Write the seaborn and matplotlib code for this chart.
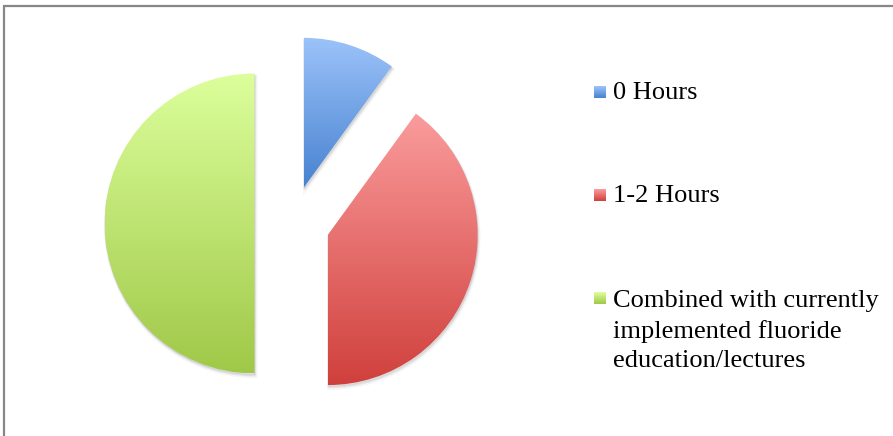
import numpy as np
import matplotlib
matplotlib.use("Agg")
import matplotlib.pyplot as plt
import seaborn as sns
from matplotlib.colors import to_rgb
from matplotlib.lines import Line2D
from matplotlib.patches import PathPatch
from matplotlib.transforms import Affine2D

# Survey answers (percent of respondents)
categories = ["0 Hours", "1-2 Hours",
              "Combined with currently\nimplemented fluoride\neducation/lectures"]
shares = [10, 40, 50]
# vertical gradient per slice: light top -> darker bottom
grad_top = ["#9CC3FA", "#FA9C9C", "#DCFF9C"]
grad_bottom = ["#4782D0", "#D0403C", "#A0C848"]

sns.set_theme(style="white")
plt.rcParams["font.family"] = ["Liberation Serif", "DejaVu Serif"]

W, H = 893, 436
fig = plt.figure(figsize=(W / 100, H / 100), dpi=100)
ax = fig.add_axes([0, 0, 1, 1])
ax.set_axis_off()

scale = 150.0            # pixels per unit radius
cx, cy = 292.0, 223.5    # pie centre in pixels (from top-left)


def px(x, y):
    return (x - cx) / scale, (cy - y) / scale


xlim = (px(0, 0)[0], px(W, 0)[0])
ylim = (px(0, H)[1], px(0, 0)[1])

wedges, _ = ax.pie(shares, startangle=90, counterclock=False,
                   explode=[0.25] * len(shares), radius=1.0,
                   wedgeprops=dict(linewidth=0, facecolor="none"))


def gradient(top, bottom, n=256):
    t = np.linspace(0, 1, n)[:, None, None]
    a = np.array(to_rgb(top))[None, None, :]
    b = np.array(to_rgb(bottom))[None, None, :]
    return a * (1 - t) + b * t


for w, top, bot in zip(wedges, grad_top, grad_bottom):
    path = w.get_path()
    ext = path.get_extents()
    # soft drop shadow
    for k, alpha in enumerate([0.05, 0.06, 0.08]):
        off = (3 - k) / scale
        sh = PathPatch(path.transformed(Affine2D().translate(off * 0.4, -off)),
                       facecolor="#555555", edgecolor="#555555",
                       linewidth=2.5 - k, alpha=alpha, zorder=0.5)
        ax.add_patch(sh)
    im = ax.imshow(gradient(top, bot),
                   extent=[ext.x0, ext.x1, ext.y0, ext.y1],
                   origin="upper", aspect="auto", zorder=1,
                   interpolation="bilinear")
    im.set_clip_path(w)

# legend: gradient squares + labels
legend_y = [92, 195, 298]
sq = 12
for lab, top, bot, y in zip(categories, grad_top, grad_bottom, legend_y):
    x0, y0 = px(594, y + sq / 2)
    x1, y1 = px(594 + sq, y - sq / 2)
    ax.imshow(gradient(top, bot, 32), extent=[x0, x1, y0, y1],
              origin="upper", aspect="auto", zorder=2)
    if "\n" in lab:
        tx, ty = px(613, y - 8)
        va = "top"
    else:
        tx, ty = px(613, y + 7)
        va = "baseline"
    ax.text(tx, ty, lab, fontsize=19, color="black", ha="left", va=va,
            linespacing=1.42, zorder=3)

ax.set_xlim(*xlim)
ax.set_ylim(*ylim)

# chart-area frame (continues past right and bottom edges)
frame = "#878787"
fig.add_artist(Line2D([3.5 / W, 1.0], [1 - 6.5 / H, 1 - 6.5 / H],
                      transform=fig.transFigure, color=frame, lw=1.6))
fig.add_artist(Line2D([3.5 / W, 3.5 / W], [0.0, 1 - 6.5 / H],
                      transform=fig.transFigure, color=frame, lw=1.6))

fig.savefig("out.png", dpi=100, facecolor="white")
